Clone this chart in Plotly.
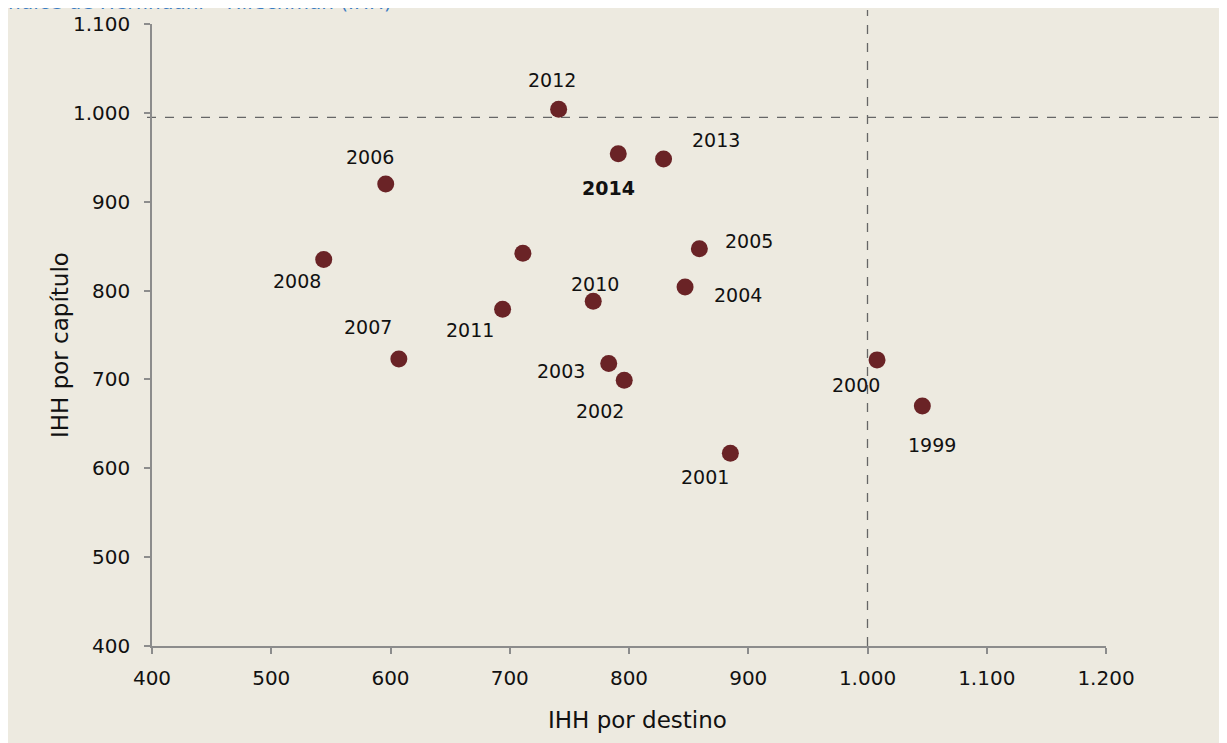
import plotly.graph_objects as go

# Data
years = ["1999", "2000", "2001", "2002", "2003", "2004", "2005", "2006",
         "2007", "2008", "2009", "2010", "2011", "2012", "2013", "2014"]
ihh_destino = [1046, 1008, 885, 796, 783, 847, 859, 596,
               607, 544, 711, 770, 694, 741, 829, 791]
ihh_capitulo = [670, 722, 617, 699, 718, 804, 847, 920,
                723, 835, 842, 788, 779, 1004, 948, 954]
shown_labels = ["1999", "2000", "2001", "2002", "2003", "2004", "2005", "2006",
                "2007", "2008", "", "2010", "2011", "2012", "2013", "2014"]
ref_x = 1000
ref_y = 995
x_ticks = [400, 500, 600, 700, 800, 900, 1000, 1100, 1200]
y_ticks = [400, 500, 600, 700, 800, 900, 1000, 1100]
title_text = "Índice de Herfindahl – Hirschman (IHH)"
x_title = "IHH por destino"
y_title = "IHH por capítulo"

# label offsets in pixels (dx right, dy down)
label_offsets = {
    "1999": (10, 39), "2000": (-21, 25), "2001": (-25, 24), "2002": (-24, 31),
    "2003": (-48, 8), "2004": (53, 8), "2005": (50, -8), "2006": (-16, -27),
    "2007": (-31, -32), "2008": (-27, 22), "2010": (2, -17), "2011": (-33, 21),
    "2012": (-7, -29), "2013": (52, -19), "2014": (-10, 34),
}

W, H = 1214, 735
L, R, T, B = 144, 116, 16, 97
pw, ph = W - L - R, H - T - B

def px_to_paper_x(px):
    return (px - L) / pw

def px_to_paper_y(py):
    return 1 - (py - T) / ph

BG = "#EDEAE0"
FONT = "DejaVu Sans"

fig = go.Figure()
fig.add_trace(go.Scatter(
    x=ihh_destino, y=ihh_capitulo, mode="markers",
    marker=dict(size=17, color="#6A2326", line=dict(width=0)),
    hovertext=years, showlegend=False, cliponaxis=False,
))

annotations = []
for yr, xv, yv, lab in zip(years, ihh_destino, ihh_capitulo, shown_labels):
    if not lab:
        continue
    dx, dy = label_offsets[lab]
    annotations.append(dict(
        x=xv, y=yv, xref="x", yref="y", showarrow=False,
        text=("<b>%s</b>" % lab) if lab == "2014" else lab,
        xshift=dx, yshift=-dy,
        font=dict(family=FONT, size=19, color="#111111"),
    ))

annotations.append(dict(
    x=px_to_paper_x(-8), y=px_to_paper_y(-6), xref="paper", yref="paper",
    xanchor="left", yanchor="middle", showarrow=False, text=title_text,
    font=dict(family=FONT, size=20, color="#3A7CC3"),
))
annotations.append(dict(
    x=px_to_paper_x(629), y=px_to_paper_y(712), xref="paper", yref="paper",
    xanchor="center", yanchor="middle", showarrow=False, text=x_title,
    font=dict(family=FONT, size=23, color="#111111"),
))
annotations.append(dict(
    x=px_to_paper_x(52), y=px_to_paper_y(337), xref="paper", yref="paper",
    xanchor="center", yanchor="middle", showarrow=False, text=y_title,
    textangle=-90, font=dict(family=FONT, size=23, color="#111111"),
))

shapes = [
    dict(type="line", xref="paper", yref="y",
         x0=px_to_paper_x(139), x1=px_to_paper_x(W), y0=ref_y, y1=ref_y,
         line=dict(color="#666666", width=1.3, dash="dash"), layer="below"),
    dict(type="line", xref="x", yref="paper",
         x0=ref_x, x1=ref_x, y0=0, y1=px_to_paper_y(2),
         line=dict(color="#666666", width=1.3, dash="dash"), layer="below"),
]

axis_common = dict(
    showgrid=False, zeroline=False, showline=True, linecolor="#8C8C8C",
    linewidth=1.5, ticks="outside", ticklen=6, tickcolor="#8C8C8C", tickwidth=1.5,
    tickformat=",d", tickfont=dict(family=FONT, size=20, color="#111111"),
    automargin=False,
)

fig.update_layout(
    width=W, height=H,
    margin=dict(l=L, r=R, t=T, b=B, autoexpand=False),
    paper_bgcolor=BG, plot_bgcolor=BG,
    separators=",.",
    xaxis=dict(range=[400, 1200], tickvals=x_ticks, ticklabelstandoff=7,
               **axis_common),
    yaxis=dict(range=[400, 1100], tickvals=y_ticks, ticklabelstandoff=10,
               **axis_common),
    annotations=annotations, shapes=shapes,
)

# let the cut-off heading above the panel show, as in the reference
post = ("document.querySelectorAll('.main-svg').forEach(function(s){"
        "s.style.overflow='visible';});"
        "document.querySelectorAll('.svg-container, .plot-container').forEach(function(s){"
        "s.style.overflow='visible';});")

fig.write_html("out.html", post_script=post)
